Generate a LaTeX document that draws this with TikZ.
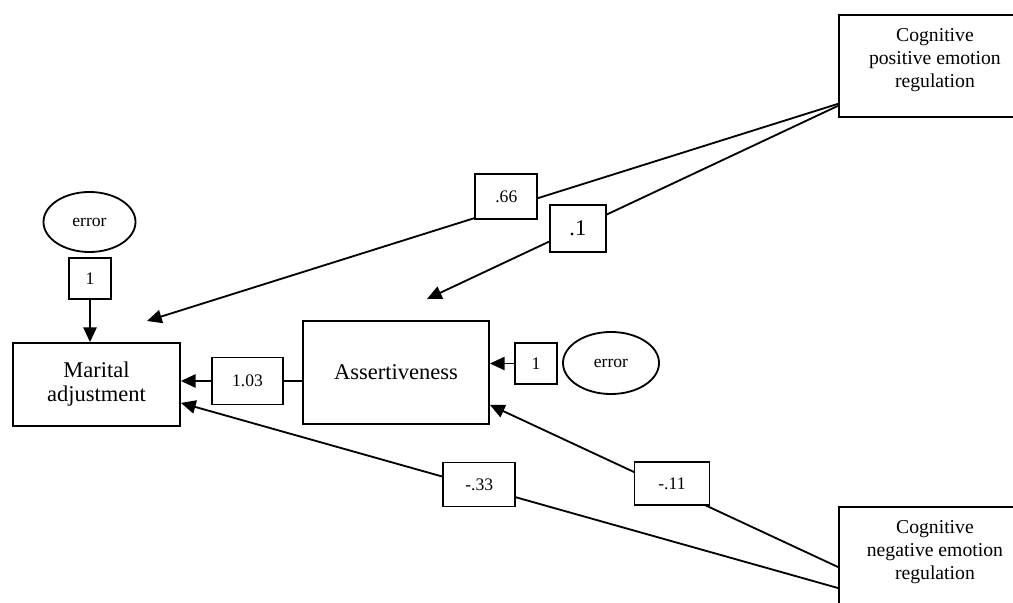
\documentclass[tikz,border=0pt]{standalone}
\usepackage{fontspec}
\setmainfont{Liberation Serif}
\usepackage{tikz}
\usetikzlibrary{calc}
\usetikzlibrary{positioning}
\usetikzlibrary{arrows.meta}
\usetikzlibrary{shapes.geometric}

\begin{document}
\begin{tikzpicture}[x=0.025cm, y=-0.025cm, line width=1.3pt,
        varbox/.style={rectangle, draw=black, align=center, font=\fontsize{16}{17}\selectfont},
        regbox/.style={rectangle, draw=black, minimum width=4.6cm, minimum height=2.55cm, anchor=north west},
        regtext/.style={align=center, font=\fontsize{14}{16.4}\selectfont},
        errnode/.style={ellipse, draw=black, minimum width=2.3cm, minimum height=1.5cm, font=\fontsize{12.5}{14}\selectfont},
        coef/.style={rectangle, draw=black, fill=white, minimum height=1.1cm, font=\fontsize{12.5}{14}\selectfont},
        arr/.style={-{Triangle[length=10.5pt, width=9.5pt]}}]
    \useasboundingbox (0,0) rectangle (1013,603);

    \node[varbox, minimum width=4.175cm, minimum height=2.075cm] (marital) at (96.5,384.5) {Marital\\adjustment};
    \node[varbox, minimum width=4.65cm, minimum height=2.575cm] (assert) at (396,372.5) {Assertiveness};

    \node[errnode] (err1) at (89.5,222) {error};
    \node[coef, minimum width=1.05cm, minimum height=1.025cm] (one1) at (90,278.5) {1};
    \node[errnode, minimum width=2.4cm, minimum height=1.55cm] (err2) at (611,363) {error};
    \node[coef, minimum width=1.05cm, minimum height=1.025cm] (one2) at (536,363.5) {1};

    \node[coef, minimum width=1.775cm, minimum height=1.175cm] (c103) at (247.5,381) {1.03};

    \node[regbox] (cogpos) at (838,14) {};
    \node[regtext, below=0.22cm of cogpos.north, xshift=0.1cm] (postext) {Cognitive\\positive emotion\\regulation};
    \node[regbox] (cogneg) at (838,506) {};
    \node[regtext, below=0.22cm of cogneg.north, xshift=0.1cm] (negtext) {Cognitive\\negative emotion\\regulation};

    % free ends of the two upper paths
    \coordinate (tipMA) at (147,321);
    \coordinate (tipAS) at (427,299);

    \draw[arr] (one1.south) -- (one1.south |- marital.north);
    \draw[arr] (one2.west) -- (assert.east |- one2.west);
    \draw[-] (assert.west |- c103.east) -- (c103.east);
    \draw[arr] (c103.west) -- (marital.east |- c103.west);

    \draw[arr] ([yshift=0.35cm]cogpos.south west) -- node[coef, pos=0.48, yshift=0.29cm, minimum width=1.55cm, minimum height=1.125cm] (c66) {.66} (tipMA);
    \draw[arr] ([yshift=0.3cm]cogpos.south west) -- node[coef, pos=0.633, minimum width=1.4cm, minimum height=1.175cm, font=\fontsize{16}{17}\selectfont] (c1) {.1} (tipAS);
    \draw[arr] ([yshift=-1.525cm]cogneg.north west) -- node[coef, pos=0.477, yshift=0.15cm, minimum width=1.875cm, minimum height=1.075cm] (c11) {-.11} ([yshift=-0.81cm]assert.east);
    \draw[arr] ([yshift=-2.05cm]cogneg.north west) -- node[coef, pos=0.546, yshift=0.06cm, minimum width=1.8cm, minimum height=1.1cm] (c33) {-.33} ([yshift=-0.46cm]marital.east);

\end{tikzpicture}
\end{document}
